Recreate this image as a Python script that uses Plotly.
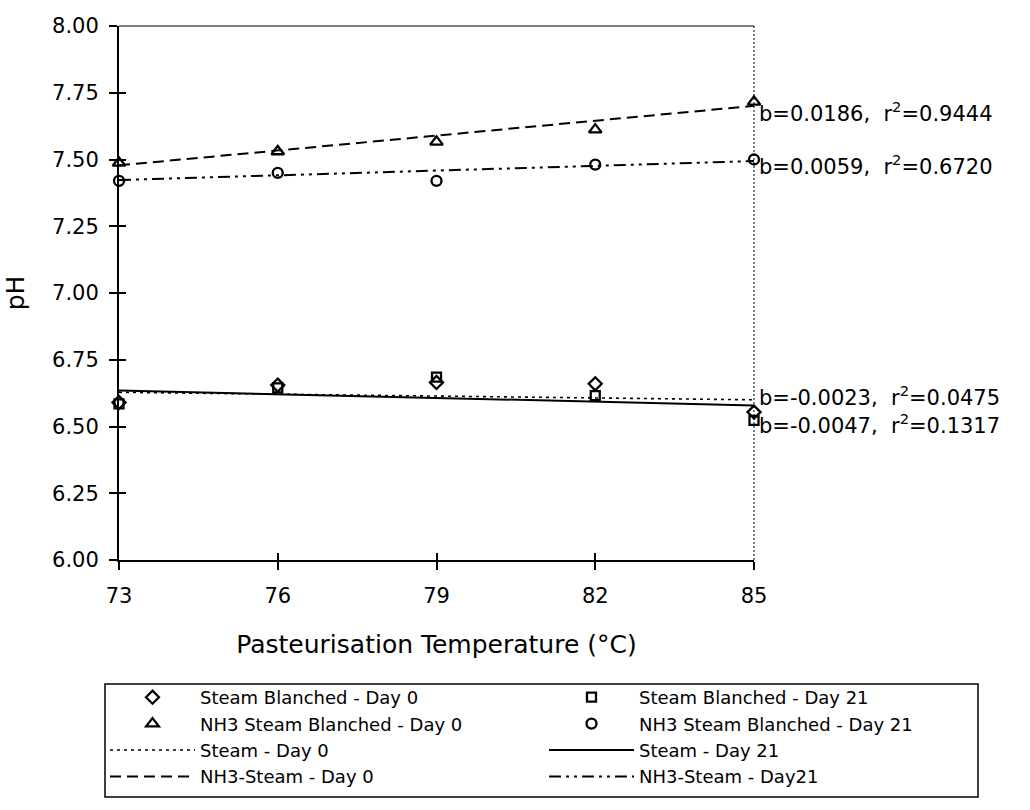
import plotly.graph_objects as go

# ---------------- data ----------------
temps = [73, 76, 79, 82, 85]
steam_day0 = [6.590, 6.655, 6.665, 6.660, 6.554]
steam_day21 = [6.585, 6.645, 6.685, 6.616, 6.523]
nh3_day0 = [7.487, 7.530, 7.566, 7.612, 7.716]
nh3_day21 = [7.420, 7.450, 7.420, 7.481, 7.500]

fit_x = [73, 85]
fit_steam_day0 = [6.628, 6.600]
fit_steam_day21 = [6.635, 6.579]
fit_nh3_day0 = [7.478, 7.701]
fit_nh3_day21 = [7.423, 7.494]

fit_text = [
    "b=0.0186,  r<sup>2</sup>=0.9444",
    "b=0.0059,  r<sup>2</sup>=0.6720",
    "b=-0.0023,  r<sup>2</sup>=0.0475",
    "b=-0.0047,  r<sup>2</sup>=0.1317",
]
fit_text_y = [7.679, 7.479, 6.613, 6.511]

x_ticks = [73, 76, 79, 82, 85]
y_ticks = [6.00, 6.25, 6.50, 6.75, 7.00, 7.25, 7.50, 7.75, 8.00]

# ---------------- figure ----------------
FONT = "DejaVu Sans"
W, H = 1030, 810
ML, MR, MT, MB = 119, 276, 26, 250
PW, PH = W - ML - MR, H - MT - MB


def px_x(px):
    return (px - ML) / PW


def px_y(py):
    return (H - MB - py) / PH


fig = go.Figure()

line_specs = [
    (fit_steam_day0, "Steam - Day 0", "3px,4px", 1.6, "legend", 3),
    (fit_steam_day21, "Steam - Day 21", "solid", 2, "legend2", 3),
    (fit_nh3_day0, "NH3-Steam - Day 0", "11px,6px", 2, "legend", 4),
    (fit_nh3_day21, "NH3-Steam - Day21", "12px,5px,3px,5px,3px,5px", 2, "legend2", 4),
]
for yv, name, dash, lw, leg, rank in line_specs:
    fig.add_trace(go.Scatter(
        x=fit_x, y=yv, mode="lines", name=name,
        line=dict(color="black", width=lw, dash=dash),
        legend=leg, legendrank=rank, cliponaxis=False,
    ))

marker_specs = [
    (steam_day0, "Steam Blanched - Day 0", "diamond-open", 10, "legend", 1),
    (steam_day21, "Steam Blanched - Day 21", "square-open", 9, "legend2", 1),
    (nh3_day0, "NH3 Steam Blanched - Day 0", "triangle-up-open", 11, "legend", 2),
    (nh3_day21, "NH3 Steam Blanched - Day 21", "circle-open", 10, "legend2", 2),
]
for yv, name, sym, size, leg, rank in marker_specs:
    fig.add_trace(go.Scatter(
        x=temps, y=yv, mode="markers", name=name,
        marker=dict(symbol=sym, size=size, color="black",
                    line=dict(color="black", width=2.3)),
        legend=leg, legendrank=rank, cliponaxis=False,
    ))

# dummy trace for the overlay axes (inside half of the crossing ticks)
fig.add_trace(go.Scatter(x=[], y=[], xaxis="x2", yaxis="y2", showlegend=False))

for txt, yv in zip(fit_text, fit_text_y):
    fig.add_annotation(
        x=1, xref="paper", y=yv, yref="y", text=txt, showarrow=False,
        xanchor="left", yanchor="middle", xshift=3,
        font=dict(family=FONT, size=21, color="black"),
    )

# plot frame: top and right borders
fig.add_shape(type="line", xref="paper", yref="paper", x0=0, x1=1, y0=1, y1=1,
              line=dict(color="black", width=1))
fig.add_shape(type="line", xref="paper", yref="paper", x0=1, x1=1, y0=0, y1=1,
              line=dict(color="black", width=1, dash="2px,2px"))
# legend box
fig.add_shape(type="rect", xref="paper", yref="paper",
              x0=px_x(105), x1=px_x(978), y0=px_y(797), y1=px_y(684),
              line=dict(color="black", width=1.5), fillcolor="rgba(0,0,0,0)")

legend_common = dict(
    bgcolor="rgba(0,0,0,0)", borderwidth=0, xanchor="left", yanchor="top",
    font=dict(family=FONT, size=18, color="black"), itemwidth=85,
    traceorder="normal",
)

fig.update_layout(
    width=W, height=H,
    margin=dict(l=ML, r=MR, t=MT, b=MB, autoexpand=False),
    paper_bgcolor="white", plot_bgcolor="white",
    font=dict(family=FONT, size=21, color="black"),
    xaxis=dict(
        range=[73, 85], tickvals=x_ticks, ticktext=[str(v) for v in x_ticks],
        ticks="outside", ticklen=8, tickwidth=2, tickcolor="black",
        showline=True, linewidth=2, linecolor="black", showgrid=False,
        zeroline=False, ticklabelstandoff=8,
        tickfont=dict(family=FONT, size=21),
        title=dict(text="Pasteurisation Temperature (°C)",
                   font=dict(family=FONT, size=25), standoff=28),
    ),
    yaxis=dict(
        range=[6, 8], tickvals=y_ticks, tickformat=".2f",
        ticks="outside", ticklen=8, tickwidth=2, tickcolor="black",
        showline=True, linewidth=2, linecolor="black", showgrid=False,
        zeroline=False, ticklabelstandoff=6,
        tickfont=dict(family=FONT, size=21),
        title=dict(text="pH", font=dict(family=FONT, size=25), standoff=20),
    ),
    xaxis2=dict(
        overlaying="x", anchor="y2", range=[73, 85], tickvals=x_ticks,
        ticks="inside", ticklen=7, tickwidth=2, tickcolor="black",
        showticklabels=False, showline=False, showgrid=False, zeroline=False,
    ),
    yaxis2=dict(
        overlaying="y", anchor="x2", range=[6, 8], tickvals=y_ticks,
        ticks="inside", ticklen=7, tickwidth=2, tickcolor="black",
        showticklabels=False, showline=False, showgrid=False, zeroline=False,
    ),
    legend=dict(x=px_x(105), y=px_y(679), **legend_common),
    legend2=dict(x=px_x(544), y=px_y(679), **legend_common),
    showlegend=True,
)

fig.write_html("out.html")
